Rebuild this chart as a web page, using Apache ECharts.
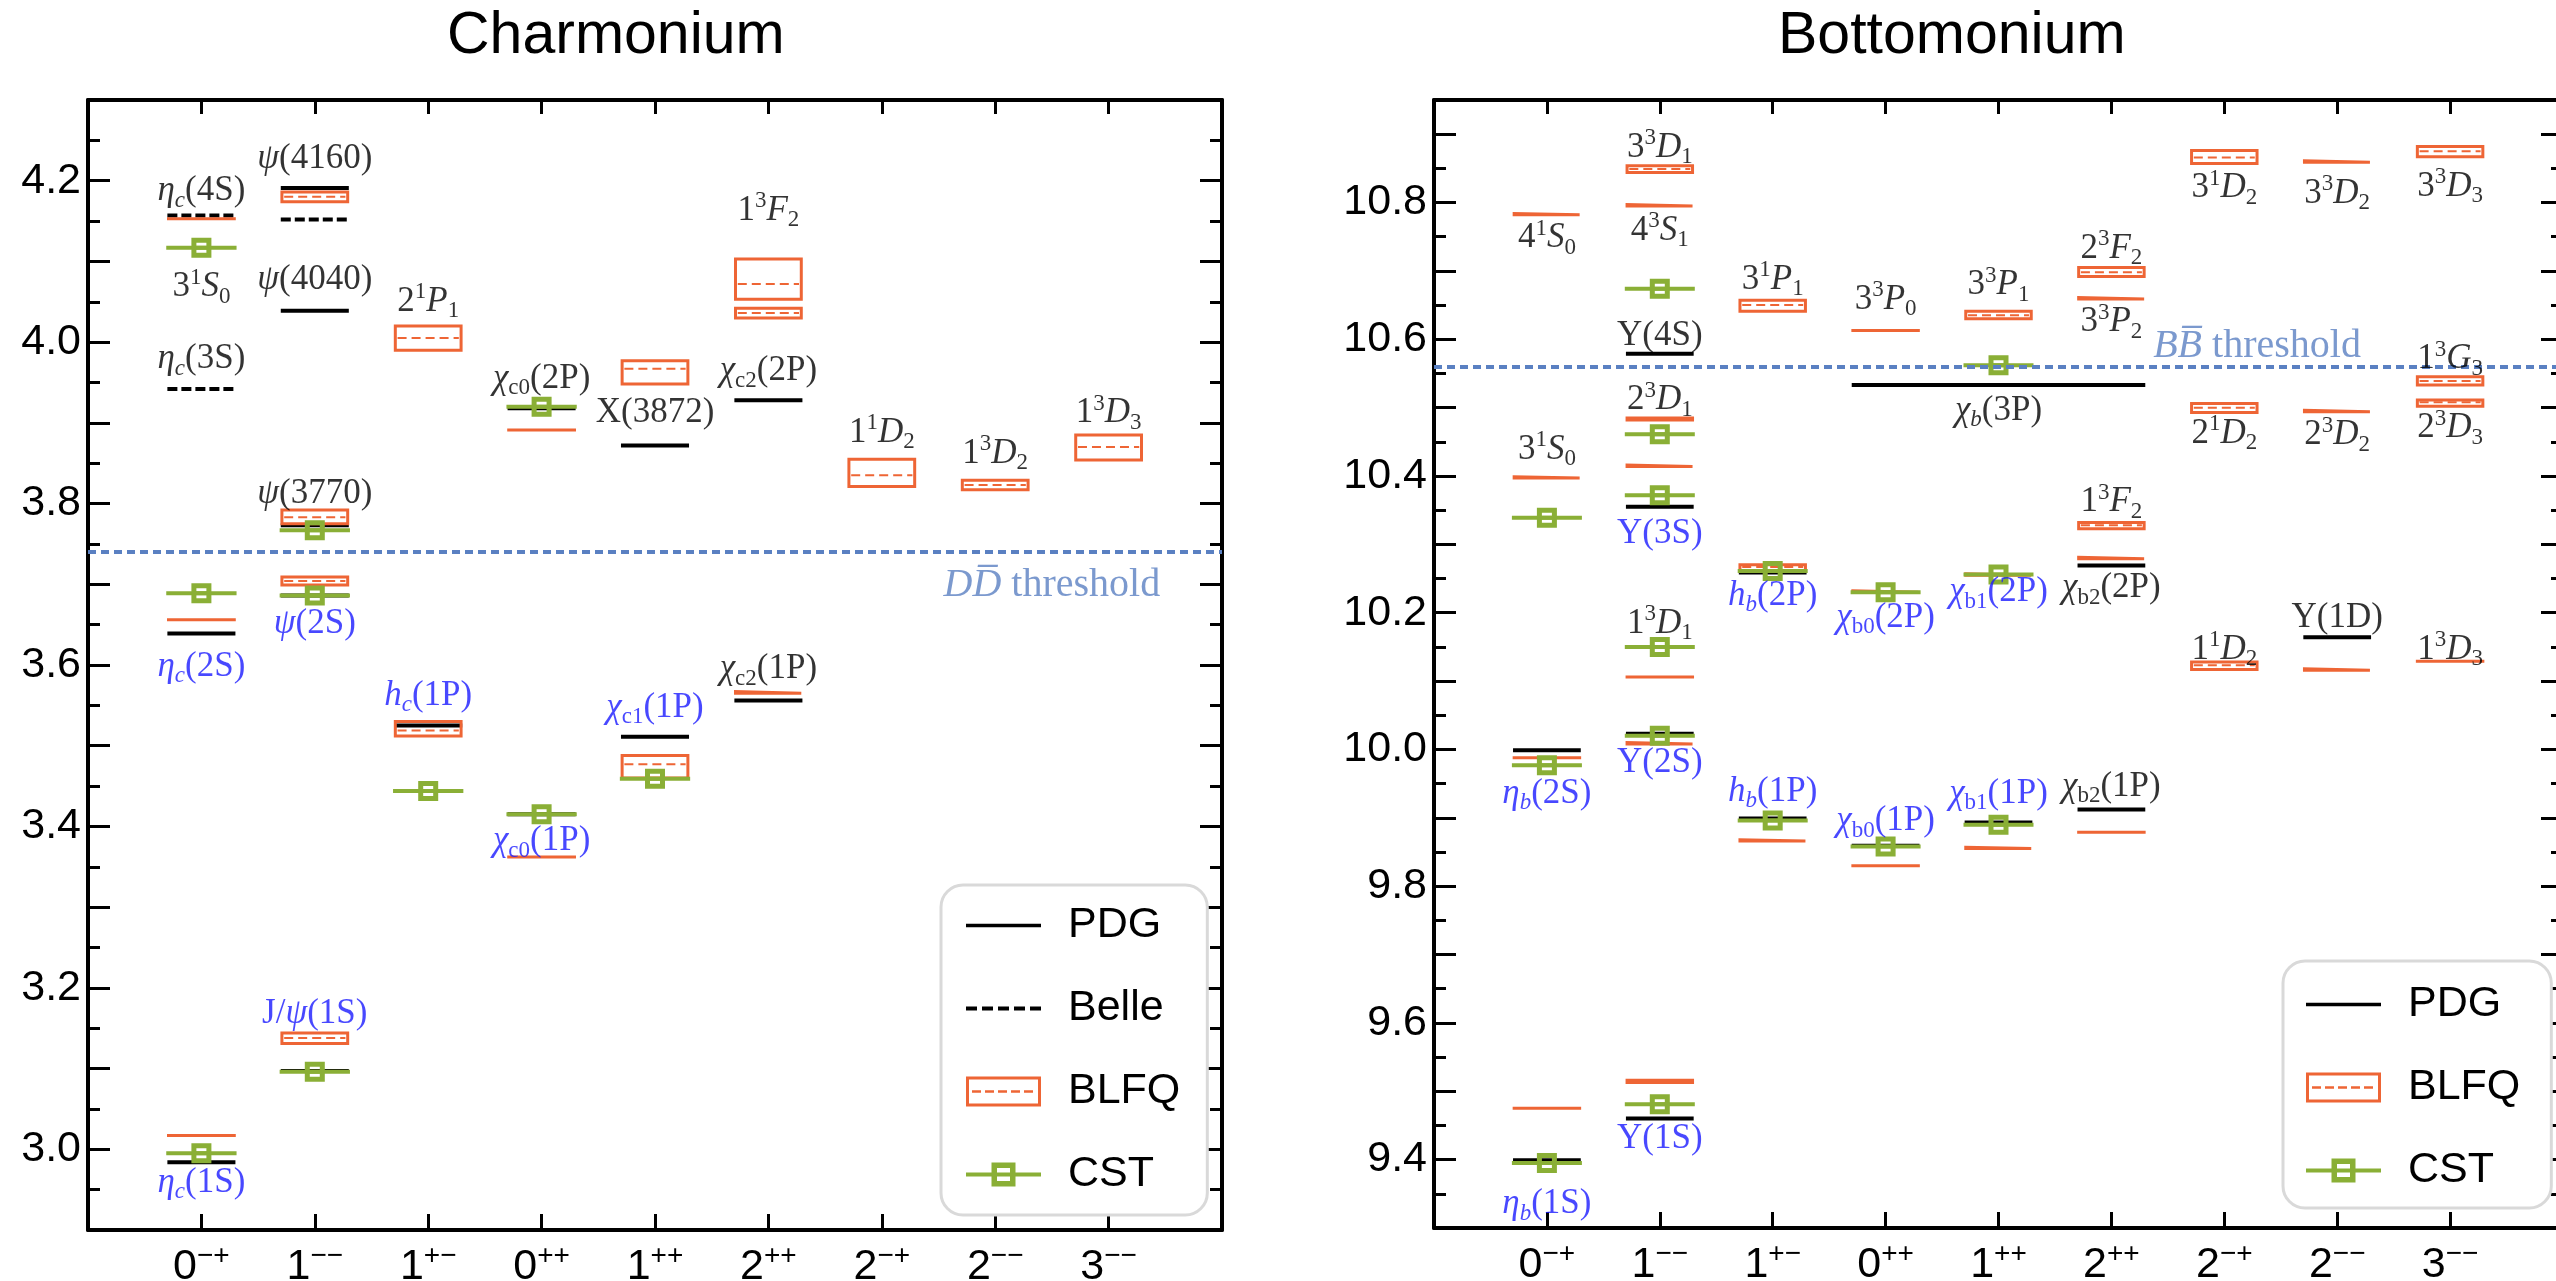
<!DOCTYPE html>
<html>
<head>
<meta charset="utf-8">
<title>Charmonium and bottomonium spectra</title>
<script src="https://cdn.jsdelivr.net/npm/echarts@6/dist/echarts.min.js"></script>
<style>
  html, body { margin: 0; padding: 0; background: #fff; }
  #chart { width: 2556px; height: 1281px; }
</style>
</head>
<body>
<div id="chart"></div>
<script>
// J^PC columns, shared by both panels
const jpcJ = ['0', '1', '1', '0', '1', '2', '2', '2', '3']
const jpcPC = ['−+', '−−', '+−', '++', '++', '++', '−+', '−−', '−−']

// ---- charmonium (GeV) ----
// [column, mass]
const charmPDG = [[0, 3.639], [0, 2.984], [1, 4.191], [1, 4.039], [1, 3.773], [1, 3.686], [1, 3.097],
  [2, 3.525], [3, 3.918], [3, 3.415], [4, 3.872], [4, 3.511], [5, 3.928], [5, 3.556]]
const charmBelle = [[0, 4.157], [0, 3.942], [1, 4.152]]
// [column, low, central, high]
const charmBLFQ = [
  [0, 4.153, 4.153, 4.153], [0, 3.656, 3.656, 3.656], [0, 3.017, 3.017, 3.017],
  [1, 4.174, 4.180, 4.186], [1, 3.775, 3.783, 3.792], [1, 3.699, 3.704, 3.709], [1, 3.131, 3.138, 3.144],
  [2, 3.990, 4.005, 4.020], [2, 3.512, 3.519, 3.530],
  [3, 3.891, 3.891, 3.891], [3, 3.362, 3.362, 3.362],
  [4, 3.948, 3.967, 3.977], [4, 3.460, 3.477, 3.488],
  [5, 4.053, 4.072, 4.103], [5, 4.030, 4.036, 4.042], [5, 3.565, 3.566, 3.567],
  [6, 3.821, 3.835, 3.855], [7, 3.817, 3.823, 3.829], [8, 3.854, 3.870, 3.885]
]
const charmCST = [[0, 4.117], [0, 3.689], [0, 2.995], [1, 3.767], [1, 3.686], [1, 3.096],
  [2, 3.444], [3, 3.920], [3, 3.415], [4, 3.459]]
const charmThreshold = 3.739
// [column, mass, text, colour key]
const charmLabels = [
  [0, 4.187, '{i|η}{si|c}{n|(4S)}', 'k'],
  [0, 4.068, '{n|3}{sp|1}{i|S}{sb|0}', 'k'],
  [0, 3.979, '{i|η}{si|c}{n|(3S)}', 'k'],
  [0, 3.598, '{i|η}{si|c}{n|(2S)}', 'b'],
  [0, 2.959, '{i|η}{si|c}{n|(1S)}', 'b'],
  [1, 4.227, '{i|ψ}{n|(4160)}', 'k'],
  [1, 4.077, '{i|ψ}{n|(4040)}', 'k'],
  [1, 3.812, '{i|ψ}{n|(3770)}', 'k'],
  [1, 3.651, '{i|ψ}{n|(2S)}', 'b'],
  [1, 3.168, '{n|J/}{i|ψ}{n|(1S)}', 'b'],
  [2, 4.050, '{n|2}{sp|1}{i|P}{sb|1}', 'k'],
  [2, 3.562, '{i|h}{si|c}{n|(1P)}', 'b'],
  [3, 3.955, '{i|χ}{sb|c0}{n|(2P)}', 'k'],
  [3, 3.382, '{i|χ}{sb|c0}{n|(1P)}', 'b'],
  [4, 3.912, '{n|X(3872)}', 'k'],
  [4, 3.547, '{i|χ}{sb|c1}{n|(1P)}', 'b'],
  [5, 4.163, '{n|1}{sp|3}{i|F}{sb|2}', 'k'],
  [5, 3.964, '{i|χ}{sb|c2}{n|(2P)}', 'k'],
  [5, 3.595, '{i|χ}{sb|c2}{n|(1P)}', 'k'],
  [6, 3.888, '{n|1}{sp|1}{i|D}{sb|2}', 'k'],
  [7, 3.862, '{n|1}{sp|3}{i|D}{sb|2}', 'k'],
  [8, 3.912, '{n|1}{sp|3}{i|D}{sb|3}', 'k'],
  [7.5, 3.699, '{ti|DD\u0305}{tn| threshold}', 't']
]

// ---- bottomonium (GeV) ----
const bottomPDG = [[0, 9.999], [0, 9.399], [1, 10.579], [1, 10.355], [1, 10.023], [1, 9.460],
  [2, 10.259], [2, 9.899], [3, 9.859], [4, 9.893], [5, 10.269], [5, 9.912], [7, 10.164]]
// chi_b(3P): J not resolved, drawn across columns [from, to, mass]
const bottomPDGWide = [[3, 5, 10.533]]
const bottomBLFQ = [
  [0, 10.782, 10.783, 10.784], [0, 10.397, 10.398, 10.399], [0, 9.988, 9.988, 9.988], [0, 9.475, 9.475, 9.475],
  [1, 10.844, 10.849, 10.854], [1, 10.795, 10.796, 10.797], [1, 10.482, 10.483, 10.485], [1, 10.414, 10.415, 10.416],
  [1, 10.106, 10.106, 10.106], [1, 10.008, 10.009, 10.010], [1, 9.513, 9.514, 9.516],
  [2, 10.641, 10.650, 10.657], [2, 10.261, 10.267, 10.270], [2, 9.866, 9.867, 9.868],
  [3, 10.613, 10.613, 10.613], [3, 10.230, 10.231, 10.232], [3, 9.830, 9.830, 9.830],
  [4, 10.630, 10.635, 10.641], [4, 10.255, 10.256, 10.257], [4, 9.855, 9.856, 9.857],
  [5, 10.692, 10.698, 10.705], [5, 10.659, 10.660, 10.661], [5, 10.323, 10.328, 10.332],
  [5, 10.279, 10.280, 10.281], [5, 9.879, 9.879, 9.879],
  [6, 10.857, 10.866, 10.876], [6, 10.493, 10.500, 10.506], [6, 10.117, 10.123, 10.128],
  [7, 10.859, 10.860, 10.861], [7, 10.494, 10.495, 10.496], [7, 10.116, 10.117, 10.118],
  [8, 10.867, 10.875, 10.882], [8, 10.533, 10.539, 10.545], [8, 10.502, 10.508, 10.511], [8, 10.129, 10.129, 10.129]
]
const bottomCST = [[0, 10.339], [0, 9.977], [0, 9.395], [1, 10.674], [1, 10.461], [1, 10.372],
  [1, 10.150], [1, 10.020], [1, 9.481], [2, 10.261], [2, 9.896], [3, 10.230], [3, 9.858],
  [4, 10.562], [4, 10.256], [4, 9.890]]
const bottomThreshold = 10.558
const bottomLabels = [
  [0, 10.748, '{n|4}{sp|1}{i|S}{sb|0}', 'k'],
  [0, 10.439, '{n|3}{sp|1}{i|S}{sb|0}', 'k'],
  [0, 9.935, '{i|η}{si|b}{n|(2S)}', 'b'],
  [0, 9.335, '{i|η}{si|b}{n|(1S)}', 'b'],
  [1, 10.880, '{n|3}{sp|3}{i|D}{sb|1}', 'k'],
  [1, 10.759, '{n|4}{sp|3}{i|S}{sb|1}', 'k'],
  [1, 10.605, '{n|Υ(4S)}', 'k'],
  [1, 10.511, '{n|2}{sp|3}{i|D}{sb|1}', 'k'],
  [1, 10.315, '{n|Υ(3S)}', 'b'],
  [1, 10.184, '{n|1}{sp|3}{i|D}{sb|1}', 'k'],
  [1, 9.980, '{n|Υ(2S)}', 'b'],
  [1, 9.431, '{n|Υ(1S)}', 'b'],
  [2, 10.687, '{n|3}{sp|1}{i|P}{sb|1}', 'k'],
  [2, 10.225, '{i|h}{si|b}{n|(2P)}', 'b'],
  [2, 9.938, '{i|h}{si|b}{n|(1P)}', 'b'],
  [3, 10.658, '{n|3}{sp|3}{i|P}{sb|0}', 'k'],
  [3, 10.193, '{i|χ}{sb|b0}{n|(2P)}', 'b'],
  [3, 9.895, '{i|χ}{sb|b0}{n|(1P)}', 'b'],
  [4, 10.679, '{n|3}{sp|3}{i|P}{sb|1}', 'k'],
  [4, 10.496, '{i|χ}{si|b}{n|(3P)}', 'k'],
  [4, 10.230, '{i|χ}{sb|b1}{n|(2P)}', 'b'],
  [4, 9.935, '{i|χ}{sb|b1}{n|(1P)}', 'b'],
  [5, 10.733, '{n|2}{sp|3}{i|F}{sb|2}', 'k'],
  [5, 10.625, '{n|3}{sp|3}{i|P}{sb|2}', 'k'],
  [5, 10.362, '{n|1}{sp|3}{i|F}{sb|2}', 'k'],
  [5, 10.236, '{i|χ}{sb|b2}{n|(2P)}', 'k'],
  [5, 9.946, '{i|χ}{sb|b2}{n|(1P)}', 'k'],
  [6, 10.821, '{n|3}{sp|1}{i|D}{sb|2}', 'k'],
  [6, 10.462, '{n|2}{sp|1}{i|D}{sb|2}', 'k'],
  [6, 10.146, '{n|1}{sp|1}{i|D}{sb|2}', 'k'],
  [7, 10.813, '{n|3}{sp|3}{i|D}{sb|2}', 'k'],
  [7, 10.460, '{n|2}{sp|3}{i|D}{sb|2}', 'k'],
  [7, 10.192, '{n|Υ(1D)}', 'k'],
  [8, 10.823, '{n|3}{sp|3}{i|D}{sb|3}', 'k'],
  [8, 10.571, '{n|1}{sp|3}{i|G}{sb|3}', 'k'],
  [8, 10.470, '{n|2}{sp|3}{i|D}{sb|3}', 'k'],
  [8, 10.146, '{n|1}{sp|3}{i|D}{sb|3}', 'k'],
  [6.29, 10.589, '{ti|BB\u0305}{tn| threshold}', 't']
]

const SANS = '"Liberation Sans", Arial, Helvetica, sans-serif'
const SERIF = '"Liberation Serif", "Times New Roman", "DejaVu Serif", serif'
const BLFQ_COLOR = '#ee6535'
const CST_COLOR = '#8aaf36'
const THRESH_COLOR = '#5a80c2'
const LABEL_COLORS = { k: '#000000', b: '#1a1aff', t: THRESH_COLOR }
const HALF = 0.3
const GAP = ['-', '-']

const CST_SYMBOL = 'path://M0,0H20V20H0Z M5,5V15H15V5Z M0,8H20V12H0Z'
const ICONS = {
  PDG: 'path://M0,0H75V3.5H0Z',
  Belle: 'path://M0,0h11v4h-11Z M16,0h11v4h-11Z M32,0h11v4h-11Z M48,0h11v4h-11Z M64,0h11v4h-11Z',
  BLFQ: 'path://M0,0H75V30H0Z M3,3V27H72V3Z M6,13.8h9v2.4h-9Z M19,13.8h9v2.4h-9Z M32,13.8h9v2.4h-9Z M45,13.8h9v2.4h-9Z M58,13.8h9v2.4h-9Z',
  CST: 'path://M0,13H75V17H0Z M25.5,3H49.5V27H25.5Z M31,8.5V21.5H44V8.5Z'
}

// rich styles for the state labels, one copy per colour
const baseRich = {
  n: { fontFamily: SERIF, fontSize: 35, lineHeight: 42, verticalAlign: 'middle' },
  i: { fontFamily: SERIF, fontSize: 35, lineHeight: 42, fontStyle: 'italic', verticalAlign: 'middle' },
  sp: { fontFamily: SERIF, fontSize: 23, verticalAlign: 'top' },
  sb: { fontFamily: SERIF, fontSize: 23, verticalAlign: 'bottom' },
  si: { fontFamily: SERIF, fontSize: 23, fontStyle: 'italic', verticalAlign: 'bottom' },
  ti: { fontFamily: SERIF, fontSize: 40, fontStyle: 'italic' },
  tn: { fontFamily: SERIF, fontSize: 40 }
}
const labelRich = {}
Object.keys(LABEL_COLORS).forEach(c => {
  Object.keys(baseRich).forEach(s => {
    labelRich[s + c] = Object.assign({ color: LABEL_COLORS[c] }, baseRich[s])
  })
})

const levelLines = (levels) => {
  const out = []
  levels.forEach(([k, m]) => out.push([k - HALF, m], [k + HALF, m], GAP))
  return out
}
const wideLines = (bands) => {
  const out = []
  bands.forEach(([k0, k1, m]) => out.push([k0 - HALF, m], [k1 + HALF, m], GAP))
  return out
}
const boxFrames = (boxes) => {
  const out = []
  const h = HALF - 0.01
  boxes.forEach(([k, lo, mid, hi]) => {
    if (hi - lo < 1e-9) {
      out.push([k - h, mid], [k + h, mid], GAP)
    } else {
      out.push([k - h, lo], [k + h, lo], [k + h, hi], [k - h, hi], [k - h, lo], GAP)
    }
  })
  return out
}
const boxCentres = (boxes) => {
  const out = []
  const h = HALF - 0.03
  boxes.filter(b => b[3] - b[1] > 0.0035).forEach(([k, lo, mid]) => out.push([k - h, mid], [k + h, mid], GAP))
  return out
}
const cstLines = (levels) => {
  const out = []
  const h = HALF + 0.01
  levels.forEach(([k, m]) => {
    out.push({ value: [k - h, m], symbol: 'none' }, { value: [k, m] }, { value: [k + h, m], symbol: 'none' }, GAP)
  })
  return out
}
const labelPoints = (labels) => labels.map(([k, m, text, c]) => ({
  value: [k, m],
  name: text.replace(/\{(\w+)\|/g, (all, s) => '{' + s + c + '|')
}))

const jpcFormatter = (v) => {
  const k = Math.round(v)
  if (Math.abs(v - k) > 1e-6 || k < 0 || k >= jpcJ.length) return ''
  return '{j|' + jpcJ[k] + '}{pc|' + jpcPC[k] + '}'
}
const massFormatter = (v) => (Math.abs(v * 5 - Math.round(v * 5)) < 1e-6 ? v.toFixed(1) : '')

const xAxisFor = (gi, position) => ({
  gridIndex: gi,
  type: 'value',
  position,
  min: -1,
  max: 9,
  interval: 1,
  axisLine: { onZero: false, lineStyle: { color: '#000', width: 4 } },
  axisTick: { inside: true, length: position === 'bottom' ? 16 : 14, lineStyle: { color: '#000', width: 3 } },
  splitLine: { show: false },
  axisLabel: {
    show: position === 'bottom',
    margin: 12,
    formatter: jpcFormatter,
    rich: {
      j: { fontFamily: SANS, fontSize: 43, lineHeight: 50, color: '#000', verticalAlign: 'middle' },
      pc: { fontFamily: SANS, fontSize: 28, color: '#000', verticalAlign: 'top' }
    }
  }
})
const yAxisFor = (gi, position, range) => ({
  gridIndex: gi,
  type: 'value',
  position,
  min: range[0],
  max: range[1],
  interval: 0.1,
  axisLine: { onZero: false, lineStyle: { color: '#000', width: 4 } },
  axisTick: { inside: true, length: 22, lineStyle: { color: '#000', width: 3 } },
  minorTick: { show: true, splitNumber: 2, length: 12, lineStyle: { color: '#000', width: 3 } },
  splitLine: { show: false },
  minorSplitLine: { show: false },
  axisLabel: {
    show: position === 'left',
    margin: 7,
    fontFamily: SANS,
    fontSize: 43,
    color: '#000',
    formatter: massFormatter
  }
})

const panelSeries = (gi, p) => {
  const axes = { xAxisIndex: gi * 2, yAxisIndex: gi * 2, silent: true, animation: false }
  const list = [
    Object.assign({
      name: 'PDG',
      type: 'line',
      symbol: 'none',
      data: levelLines(p.pdg).concat(wideLines(p.wide || [])),
      lineStyle: { color: '#000', width: 4, cap: 'butt' },
      itemStyle: { color: '#000' },
      markLine: {
        silent: true,
        symbol: ['none', 'none'],
        label: { show: false },
        lineStyle: { color: THRESH_COLOR, width: 4, type: [8, 5] },
        data: [{ yAxis: p.threshold }]
      }
    }, axes)
  ]
  if (p.belle) {
    list.push(Object.assign({
      name: 'Belle',
      type: 'line',
      symbol: 'none',
      data: levelLines(p.belle),
      lineStyle: { color: '#000', width: 4, type: [10, 4] },
      itemStyle: { color: '#000' }
    }, axes))
  }
  list.push(Object.assign({
    name: 'BLFQ',
    type: 'line',
    symbol: 'none',
    data: boxFrames(p.blfq),
    lineStyle: { color: BLFQ_COLOR, width: 3, cap: 'square', join: 'miter' },
    itemStyle: { color: BLFQ_COLOR }
  }, axes))
  list.push(Object.assign({
    name: 'BLFQ',
    type: 'line',
    symbol: 'none',
    data: boxCentres(p.blfq),
    lineStyle: { color: BLFQ_COLOR, width: 2, type: [9, 5] },
    itemStyle: { color: BLFQ_COLOR }
  }, axes))
  list.push(Object.assign({
    name: 'CST',
    type: 'line',
    symbol: CST_SYMBOL,
    symbolSize: 20,
    data: cstLines(p.cst),
    lineStyle: { color: CST_COLOR, width: 4 },
    itemStyle: { color: CST_COLOR }
  }, axes))
  list.push(Object.assign({
    name: 'labels',
    type: 'scatter',
    symbol: 'circle',
    symbolSize: 0,
    z: 6,
    data: labelPoints(p.labels),
    label: {
      show: true,
      position: 'inside',
      formatter: (prm) => prm.name,
      rich: labelRich
    }
  }, axes))
  return list
}

const legendFor = (names, left, top, padding) => ({
  orient: 'vertical',
  left,
  top,
  padding,
  itemWidth: 75,
  itemHeight: 30,
  itemGap: 40,
  selectedMode: false,
  backgroundColor: '#fff',
  borderColor: '#d9d9d9',
  borderWidth: 3,
  borderRadius: 22,
  textStyle: { fontFamily: SANS, fontSize: 43, lineHeight: 42, color: '#000', padding: [0, 0, 0, 22] },
  data: names.map(n => ({ name: n, icon: ICONS[n], itemStyle: { borderWidth: 0 } }))
})

const chart = echarts.init(document.getElementById('chart'))
chart.setOption({
  animation: false,
  backgroundColor: '#fff',
  title: [
    { text: 'Charmonium', left: 447, top: 7, padding: 0, textStyle: { fontFamily: SANS, fontSize: 59, fontWeight: 'normal', color: '#000' } },
    { text: 'Bottomonium', left: 1778, top: 7, padding: 0, textStyle: { fontFamily: SANS, fontSize: 59, fontWeight: 'normal', color: '#000' } }
  ],
  legend: [
    legendFor(['PDG', 'Belle', 'BLFQ', 'CST'], 941, 885, [19, 27, 19, 25]),
    legendFor(['PDG', 'BLFQ', 'CST'], 2283, 961, [22, 31, 16, 23])
  ],
  grid: [
    { left: 88, top: 100, width: 1134, height: 1130, outerBoundsMode: 'none' },
    { left: 1434, top: 100, width: 1129, height: 1128, outerBoundsMode: 'none' }
  ],
  xAxis: [xAxisFor(0, 'bottom'), xAxisFor(0, 'top'), xAxisFor(1, 'bottom'), xAxisFor(1, 'top')],
  yAxis: [
    yAxisFor(0, 'left', [2.9, 4.3]), yAxisFor(0, 'right', [2.9, 4.3]),
    yAxisFor(1, 'left', [9.3, 10.95]), yAxisFor(1, 'right', [9.3, 10.95])
  ],
  series: panelSeries(0, {
    pdg: charmPDG, belle: charmBelle, blfq: charmBLFQ, cst: charmCST,
    threshold: charmThreshold, labels: charmLabels
  }).concat(panelSeries(1, {
    pdg: bottomPDG, wide: bottomPDGWide, blfq: bottomBLFQ, cst: bottomCST,
    threshold: bottomThreshold, labels: bottomLabels
  }))
})
</script>
</body>
</html>
